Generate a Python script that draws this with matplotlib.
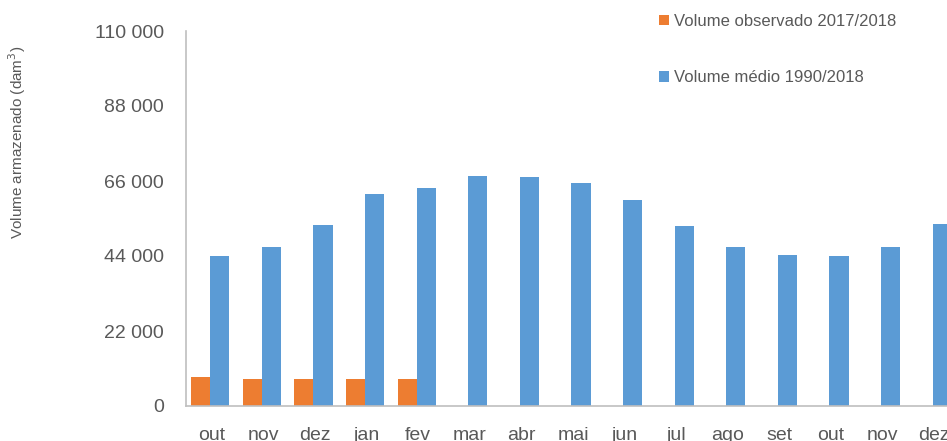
import matplotlib
matplotlib.use("Agg")
import matplotlib.pyplot as plt
from matplotlib.ticker import FuncFormatter
import numpy as np

plt.rcParams['font.family'] = ['Liberation Sans', 'DejaVu Sans']

meses = ['out', 'nov', 'dez', 'jan', 'fev', 'mar', 'abr', 'mai', 'jun',
         'jul', 'ago', 'set', 'out', 'nov', 'dez']
observado = [8400, 8000, 7900, 8000, 7900]
medio = [44000, 46600, 53100, 62200, 64000, 67500, 67200, 65400, 60400,
         52800, 46600, 44300, 44000, 46600, 53400]
y_ticks = [0, 22000, 44000, 66000, 88000, 110000]

cinza = '#595959'
laranja = '#ED7D31'
azul = '#5B9BD5'

fig = plt.figure(figsize=(9.47, 4.41), dpi=100)
# eixo estendido para alem da borda direita
ax = fig.add_axes([186 / 947, 1 - 406 / 441, 774 / 947, 375 / 441])

x = np.arange(len(meses))
w = 0.37
ax.bar(x[:len(observado)] - w / 2 - 0.03, observado, width=w, color=laranja,
       label='Volume observado 2017/2018')
ax.bar(x + w / 2 - 0.03, medio, width=w, color=azul, label='Volume médio 1990/2018')

ax.set_xlim(-0.5, len(meses) - 0.5)
ax.set_ylim(0, 110000)
ax.set_yticks(y_ticks)
ax.yaxis.set_major_formatter(FuncFormatter(lambda v, p: f'{int(v):,}'.replace(',', ' ')))
ax.set_xticks(x)
ax.set_xticklabels(meses)
ax.tick_params(axis='both', length=0, colors=cinza, labelsize=14)
ax.tick_params(axis='y', pad=16)
ax.tick_params(axis='x', pad=15)

for s in ['top', 'right']:
    ax.spines[s].set_visible(False)
for s in ['left', 'bottom']:
    ax.spines[s].set_color('#BFBFBF')
    ax.spines[s].set_linewidth(1.2)

fig.text(17 / 947, 1 - 142 / 441, 'Volume armazenado (dam$^3$)', rotation=90,
         ha='center', va='center', fontsize=11, color=cinza)

ax.legend(loc='upper left', bbox_to_anchor=(652 / 947, 1 - 7 / 441),
          bbox_transform=fig.transFigure, frameon=False, fontsize=12,
          labelcolor=cinza, handlelength=0.6, handleheight=0.6,
          handletextpad=0.3, labelspacing=2.5, borderaxespad=0)

fig.savefig('out.png', dpi=100)
